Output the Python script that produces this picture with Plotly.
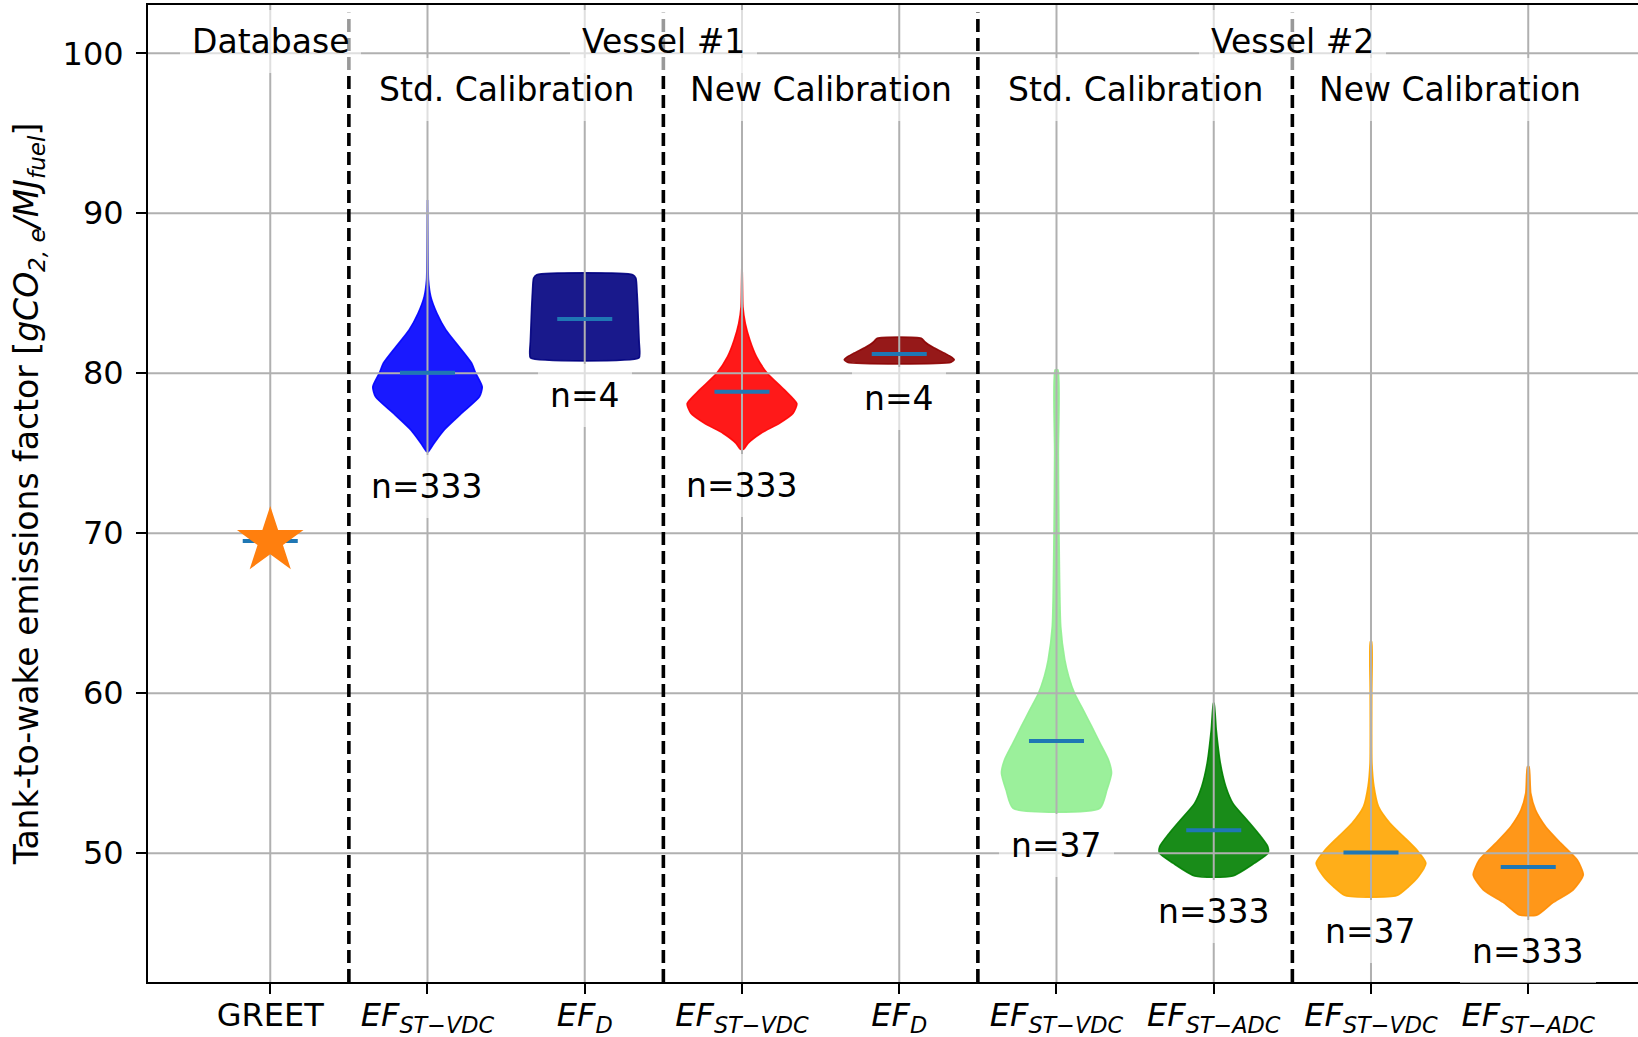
import plotly.graph_objects as go

# ---------------- data ----------------
positions = [1, 2, 3, 4, 5, 6, 7, 8, 9]
tick_labels = [
    "GREET",
    "<i>EF</i><sub><i>ST−VDC</i></sub>",
    "<i>EF</i><sub><i>D</i></sub>",
    "<i>EF</i><sub><i>ST−VDC</i></sub>",
    "<i>EF</i><sub><i>D</i></sub>",
    "<i>EF</i><sub><i>ST−VDC</i></sub>",
    "<i>EF</i><sub><i>ST−ADC</i></sub>",
    "<i>EF</i><sub><i>ST−VDC</i></sub>",
    "<i>EF</i><sub><i>ST−ADC</i></sub>",
]
y_ticks = [50, 60, 70, 80, 90, 100]

greet_value = 69.52
means = [69.52, 80.04, 83.39, 78.85, 81.20, 57.02, 51.44, 50.04, 49.14]

# violin profiles: value levels and KDE half-widths
v1_std_vdc_y = [90.83, 88.5, 86.5, 85.83, 84.79, 83.75, 82.71, 81.66, 80.63, 80.04, 79.16, 78.54, 77.5, 76.46, 75.63, 75.1]
v1_std_vdc_hw = [0.0, 0.002, 0.004, 0.006, 0.021, 0.06, 0.117, 0.201, 0.281, 0.305, 0.348, 0.331, 0.217, 0.106, 0.042, 0.005]

v1_std_d_y = [86.16, 85.95, 85.0, 84.0, 83.0, 82.0, 81.3, 80.96]
v1_std_d_hw = [0.305, 0.325, 0.333, 0.338, 0.342, 0.346, 0.35, 0.345]

v1_new_vdc_y = [87.29, 85.5, 84.16, 83.12, 82.08, 81.04, 80.0, 78.96, 78.1, 77.5, 76.87, 76.25, 75.62, 75.25]
v1_new_vdc_hw = [0.0, 0.003, 0.006, 0.021, 0.05, 0.092, 0.161, 0.27, 0.349, 0.325, 0.238, 0.121, 0.038, 0.01]

v1_new_d_y = [82.19, 82.0, 81.8, 81.6, 81.4, 81.2, 81.0, 80.85, 80.69]
v1_new_d_hw = [0.14, 0.16, 0.185, 0.22, 0.26, 0.30, 0.335, 0.35, 0.33]

v2_std_vdc_y = [80.21, 75.0, 70.0, 64.16, 62.08, 61.04, 60.0, 58.96, 57.91, 56.87, 55.83, 55.0, 53.96, 52.81]
v2_std_vdc_hw = [0.009, 0.012, 0.016, 0.027, 0.053, 0.078, 0.115, 0.17, 0.225, 0.278, 0.331, 0.35, 0.321, 0.276]

v2_std_adc_y = [59.38, 57.71, 55.63, 54.16, 53.12, 52.08, 51.25, 50.41, 50.0, 49.38, 48.58]
v2_std_adc_hw = [0.002, 0.016, 0.042, 0.077, 0.122, 0.212, 0.283, 0.344, 0.345, 0.259, 0.121]

v2_new_vdc_y = [63.23, 60.0, 55.63, 54.16, 52.91, 51.87, 51.04, 50.21, 49.38, 48.54, 47.91, 47.35]
v2_new_vdc_hw = [0.004, 0.005, 0.006, 0.019, 0.048, 0.121, 0.207, 0.291, 0.349, 0.302, 0.239, 0.164]

v2_new_adc_y = [55.41, 53.75, 52.71, 51.66, 50.63, 49.58, 48.64, 47.71, 46.88, 46.14]
v2_new_adc_hw = [0.005, 0.016, 0.046, 0.111, 0.207, 0.312, 0.35, 0.286, 0.153, 0.057]

violin_colors = [
    "rgba(0,0,255,0.9)",      # blue
    "rgba(0,0,128,0.9)",      # navy
    "rgba(255,0,0,0.9)",      # red
    "rgba(139,0,0,0.9)",      # darkred
    "rgba(144,238,144,0.9)",  # lightgreen
    "rgba(0,128,0,0.9)",      # green
    "rgba(255,165,0,0.9)",    # orange
    "rgba(255,140,0,0.9)",    # darkorange
]

n_labels = ["n=333", "n=4", "n=333", "n=4", "n=37", "n=333", "n=37", "n=333"]
n_label_y = [72.9, 78.59, 72.97, 78.4, 50.51, 46.34, 45.1, 43.86]

group_labels = ["Database", "Vessel #1", "Vessel #2"]
group_x = [1, 3.5, 7.5]
group_y = 100.72
sub_labels = ["Std. Calibration", "New Calibration", "Std. Calibration", "New Calibration"]
sub_x = [2.5, 4.5, 6.5, 8.5]
sub_y = 97.72
separators = [1.5, 3.5, 5.5, 7.5]
separator_top = 102.55

x_range = [0.2226, 9.698]
y_range = [41.95, 103.02]

FONT = "DejaVu Sans"
FS = 32
TFS = 33

violins = [
    (v1_std_vdc_y, v1_std_vdc_hw),
    (v1_std_d_y, v1_std_d_hw),
    (v1_new_vdc_y, v1_new_vdc_hw),
    (v1_new_d_y, v1_new_d_hw),
    (v2_std_vdc_y, v2_std_vdc_hw),
    (v2_std_adc_y, v2_std_adc_hw),
    (v2_new_vdc_y, v2_new_vdc_hw),
    (v2_new_adc_y, v2_new_adc_hw),
]

fig = go.Figure()

# violins
for (ys, hws), pos, col in zip(violins, positions[1:], violin_colors):
    xs = [pos + h for h in hws] + [pos - h for h in reversed(hws)]
    yy = list(ys) + list(reversed(ys))
    fig.add_trace(go.Scatter(
        x=xs + [xs[0]], y=yy + [yy[0]], mode="lines", fill="toself",
        fillcolor=col, line=dict(width=1.6, color=col, shape="spline", smoothing=0.6),
        hoverinfo="skip", showlegend=False,
    ))

# grid lines (above violins, below mean lines)
gx, gy = [], []
for p in positions:
    gx += [p, p, None]
    gy += [y_range[0], y_range[1], None]
for t in y_ticks:
    gx += [x_range[0], x_range[1], None]
    gy += [t, t, None]
fig.add_trace(go.Scatter(x=gx, y=gy, mode="lines", line=dict(color="#b0b0b0", width=2),
                         hoverinfo="skip", showlegend=False))

# separators
sx, sy = [], []
for s in separators:
    sx += [s, s, None]
    sy += [y_range[0], separator_top, None]
fig.add_trace(go.Scatter(x=sx, y=sy, mode="lines",
                         line=dict(color="black", width=3.6, dash="13px,6px"),
                         hoverinfo="skip", showlegend=False))

# mean lines
mx, my = [], []
for p, m in zip(positions, means):
    mx += [p - 0.175, p + 0.175, None]
    my += [m, m, None]
fig.add_trace(go.Scatter(x=mx, y=my, mode="lines", line=dict(color="#1f77b4", width=4),
                         hoverinfo="skip", showlegend=False))

# GREET star
fig.add_trace(go.Scatter(x=[positions[0]], y=[greet_value], mode="markers",
                         marker=dict(symbol="star", size=50, color="#ff7f0e", line=dict(width=0)),
                         hoverinfo="skip", showlegend=False))

annotations = []
box = dict(bgcolor="rgba(255,255,255,0.6)", borderpad=12, borderwidth=0, showarrow=False,
           font=dict(family=FONT, size=TFS, color="black"), xref="x", yref="y",
           xanchor="center", yanchor="middle")
for t, x in zip(group_labels, group_x):
    annotations.append(dict(text=t, x=x, y=group_y, **box))
for t, x in zip(sub_labels, sub_x):
    annotations.append(dict(text=t, x=x, y=sub_y, **box))
for t, x, y in zip(n_labels, positions[1:], n_label_y):
    annotations.append(dict(text=t, x=x, y=y, **box))

fig.update_layout(
    width=1638, height=1037,
    margin=dict(l=148, r=0, t=5, b=55),
    paper_bgcolor="white", plot_bgcolor="white",
    font=dict(family=FONT, size=FS, color="black"),
    annotations=annotations,
    showlegend=False,
)
fig.update_xaxes(
    range=x_range, tickmode="array", tickvals=positions, ticktext=tick_labels,
    showgrid=False, zeroline=False, showline=True, linecolor="black", linewidth=2,
    mirror=True, ticks="outside", ticklen=10, tickwidth=2, tickcolor="black",
    tickfont=dict(family=FONT, size=FS, color="black"), automargin=False,
    ticklabelstandoff=-6,
)
fig.update_yaxes(
    range=y_range, tickmode="array", tickvals=y_ticks,
    showgrid=False, zeroline=False, showline=True, linecolor="black", linewidth=2,
    mirror=False, ticks="outside", ticklen=10, tickwidth=2, tickcolor="black",
    tickfont=dict(family=FONT, size=FS, color="black"), automargin=False,
    ticklabelstandoff=6,
    title=dict(text="Tank-to-wake emissions factor [<i>gCO</i><sub><i>2, e</i></sub><i>/MJ</i><sub><i>fuel</i></sub>]",
               font=dict(family=FONT, size=TFS, color="black"), standoff=14),
)

fig.write_html("out.html")
